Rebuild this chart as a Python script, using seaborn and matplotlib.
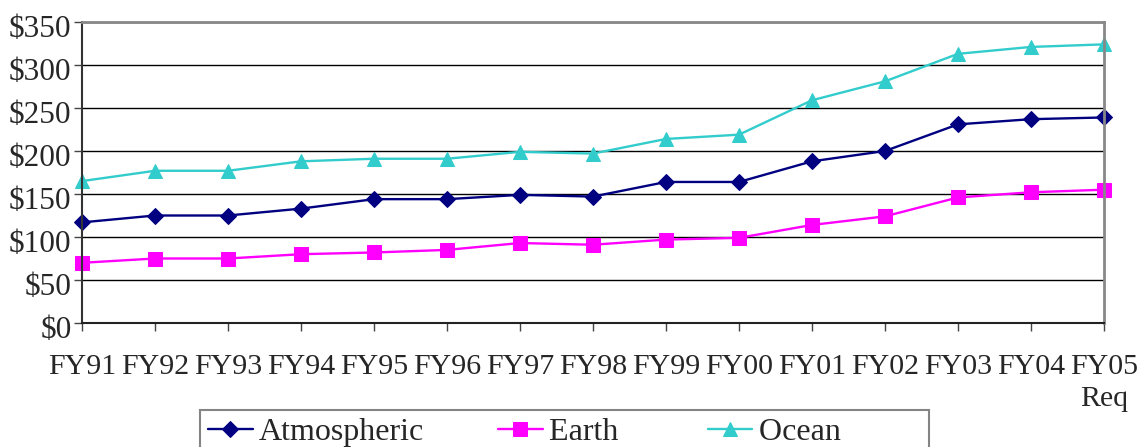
import pandas as pd
import numpy as np
import matplotlib
matplotlib.use('Agg')
import matplotlib.pyplot as plt
import matplotlib.transforms as mtransforms
import seaborn as sns

years = ['FY91', 'FY92', 'FY93', 'FY94', 'FY95', 'FY96', 'FY97', 'FY98',
         'FY99', 'FY00', 'FY01', 'FY02', 'FY03', 'FY04', 'FY05\nReq']
atmospheric = [117, 125, 125, 133, 144, 144, 149, 147, 164, 164, 188, 200, 231, 237, 239]
earth = [70, 75, 75, 80, 82, 85, 93, 91, 97, 99, 114, 124, 146, 152, 155]
ocean = [165, 177, 177, 188, 191, 191, 199, 197, 214, 219, 259, 281, 313, 321, 324]
yticks = [0, 50, 100, 150, 200, 250, 300, 350]

sns.set_style('white')
plt.rcParams['font.family'] = ['Liberation Serif', 'DejaVu Serif']

fig = plt.figure(figsize=(11.44, 4.47), dpi=100)
ax = fig.add_axes([82/1144, 1-323/447, (1104-82)/1144, (323-22)/447])

x = np.arange(len(years))
series = [('Atmospheric', atmospheric, '#000080', 'D', 8),
          ('Earth', earth, '#FF00FF', 's', 9.5),
          ('Ocean', ocean, '#33CCCC', '^', 9.5)]
for name, vals, col, mk, ms in series:
    sns.lineplot(x=x, y=vals, ax=ax, color=col, marker=mk, markersize=ms,
                 markeredgecolor=col, linewidth=1.7, label=name, clip_on=False)

ax.set_xlim(0, 14)
ax.set_ylim(0, 350)
ax.set_yticks(yticks)
ax.set_yticklabels(['$' + str(v) for v in yticks], fontsize=22.5)
ax.set_xticks(x)
ax.set_xticklabels(years, fontsize=21.5, linespacing=1.3)
ax.yaxis.grid(True, color='black', linewidth=1)
ax.tick_params(axis='x', direction='out', length=6, width=1, color='#444444',
               bottom=True, pad=16)
ax.tick_params(axis='y', direction='out', length=6, width=1, color='#444444',
               left=True, pad=1.5)
# y labels sit a little below their grid lines in the original
off = mtransforms.ScaledTranslation(0, -4/100, fig.dpi_scale_trans)
for lbl in ax.get_yticklabels():
    lbl.set_transform(lbl.get_transform() + off)

for side in ['top', 'right']:
    ax.spines[side].set_color('#888888')
    ax.spines[side].set_linewidth(2)
ax.spines['left'].set_color('#333333')
ax.spines['left'].set_linewidth(1.5)
ax.spines['bottom'].set_color('#222222')
ax.spines['bottom'].set_linewidth(1.5)
ax.set_xlabel('')
ax.set_ylabel('')

ax.get_legend().remove()
handles, labels = ax.get_legend_handles_labels()
labels = ['Atmospheric', 'Earth  ', 'Ocean          ']
leg = fig.legend(handles, labels, loc='upper left', ncol=3,
                 bbox_to_anchor=(200/1144, 1-410/447), fontsize=23,
                 frameon=True, fancybox=False, edgecolor='#666666',
                 borderpad=0.25, handlelength=1.4, handletextpad=0.2,
                 columnspacing=2.3, borderaxespad=0)
leg.get_frame().set_linewidth(1.5)

fig.savefig('out.png', dpi=100)
